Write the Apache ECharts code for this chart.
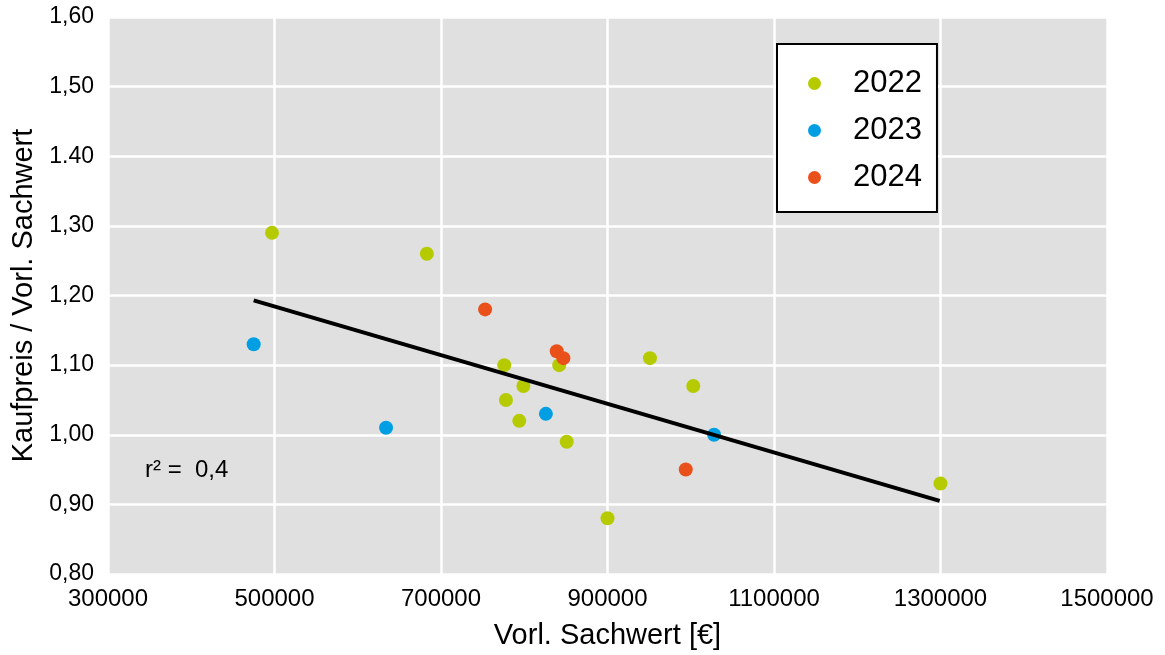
<!DOCTYPE html>
<html><head><meta charset="utf-8">
<script src="https://cdn.jsdelivr.net/npm/echarts@6/dist/echarts.min.js"></script>
<style>html,body{margin:0;padding:0;background:#fff}#c{width:1165px;height:655px}</style>
</head><body><div id="c"></div>
<script>
const years = ['2022', '2023', '2024'];
const sachwert2022 = [497000, 683000, 776000, 778000, 799000, 794000, 842000, 851000, 900000, 951000, 1003000, 1300000];
const ratio2022    = [1.29,   1.26,   1.10,   1.05,   1.07,   1.02,   1.10,   0.99,   0.88,   1.11,   1.07,    0.93];
const sachwert2023 = [475000, 634000, 826000, 1028000];
const ratio2023    = [1.13,   1.01,   1.03,   1.00];
const sachwert2024 = [753000, 839000, 847000, 994000];
const ratio2024    = [1.18,   1.12,   1.11,   0.95];
const trendX = [475000, 1299000];
const trendY = [1.193, 0.905];
const yTickLabels = ['0,80', '0,90', '1,00', '1,10', '1,20', '1,30', '1.40', '1,50', '1,60'];
const rSquaredText = 'r² =  0,4';
const xAxisTitle = 'Vorl. Sachwert [€]';
const yAxisTitle = 'Kaufpreis / Vorl. Sachwert';

const FONT = '"Liberation Sans", Arial, sans-serif';
const colors = ['#B5CB00', '#009FE3', '#E9501A'];
const zip = (xs, ys) => xs.map((x, i) => [x, ys[i]]);

const chart = echarts.init(document.getElementById('c'), null, {renderer: 'canvas'});
chart.setOption({
  animation: false,
  backgroundColor: '#fff',
  grid: {left: 108, right: 58, top: 17, bottom: 80, show: true, backgroundColor: '#e0e0e0', borderWidth: 0},
  xAxis: {
    type: 'value', min: 300000, max: 1500000, interval: 200000,
    name: xAxisTitle, nameLocation: 'middle', nameGap: 47,
    nameTextStyle: {fontFamily: FONT, fontSize: 29, color: '#000'},
    axisLine: {show: false}, axisTick: {show: false},
    axisLabel: {fontFamily: FONT, fontSize: 24, color: '#000', margin: 13, formatter: v => String(v)},
    splitLine: {show: true, lineStyle: {color: '#fff', width: 2.5}}
  },
  yAxis: {
    type: 'value', min: 0.8, max: 1.6, interval: 0.1,
    name: yAxisTitle, nameLocation: 'middle', nameGap: 65,
    nameTextStyle: {fontFamily: FONT, fontSize: 29, color: '#000'},
    axisLine: {show: false}, axisTick: {show: false},
    axisLabel: {fontFamily: FONT, fontSize: 23, color: '#000', margin: 14,
      formatter: v => yTickLabels[Math.round((v - 0.8) / 0.1)]},
    splitLine: {show: true, lineStyle: {color: '#fff', width: 2.5}}
  },
  legend: {
    data: years, orient: 'vertical', left: 777, top: 44,
    backgroundColor: '#fff', borderColor: '#000', borderWidth: 2, borderRadius: 0,
    padding: [24, 15, 19, 31], itemWidth: 13, itemHeight: 13, itemGap: 16, icon: 'circle',
    textStyle: {fontFamily: FONT, fontSize: 31, color: '#000', lineHeight: 30, padding: [0, 0, 0, 27]}
  },
  graphic: [{
    type: 'text', left: 145, top: 458,
    style: {text: rSquaredText, font: '24px ' + FONT, fill: '#000'}
  }],
  series: [
    {name: years[0], type: 'scatter', symbolSize: 14, itemStyle: {color: colors[0], opacity: 1}, data: zip(sachwert2022, ratio2022), z: 2},
    {name: years[1], type: 'scatter', symbolSize: 14, itemStyle: {color: colors[1], opacity: 1}, data: zip(sachwert2023, ratio2023), z: 2},
    {name: years[2], type: 'scatter', symbolSize: 14, itemStyle: {color: colors[2], opacity: 1}, data: zip(sachwert2024, ratio2024), z: 2},
    {name: 'Trend', type: 'line', data: zip(trendX, trendY), symbol: 'none', lineStyle: {color: '#000', width: 4}, z: 3}
  ]
});
</script></body></html>
